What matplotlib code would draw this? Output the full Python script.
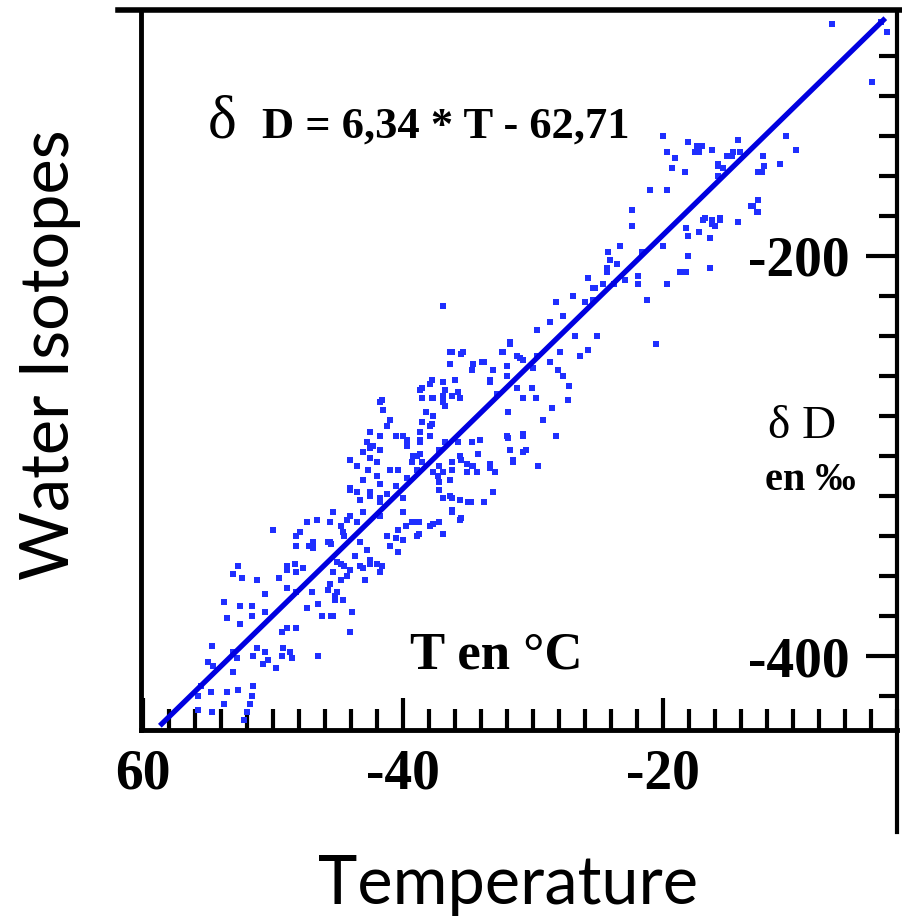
import numpy as np
import matplotlib
matplotlib.use("Agg")
import matplotlib.pyplot as plt
from matplotlib.lines import Line2D

# Données : température (°C) et deutérium (‰)
temp_c = [
    -48.2, -46.9, -45.5, -52.7, -53.1, -52.4, -51.2, -50.6, -48.3, -47.7, -48.9, -49.5,
    -53.8, -52.5, -51.6, -50.6, -53.5, -52.5, -51.6, -48.9, -48.2, -47.0, -46.5, -47.4,
    -45.8, -45.2, -45.6, -44.8, -44.6, -45.5, -46.2, -48.9, -48.2, -49.3, -51.2, -50.6,
    -51.5, -50.4, -49.2, -48.7, -49.3, -48.5, -46.5, -49.8, -50.8, -54.7, -55.0, -54.6,
    -53.1, -52.8, -53.1, -51.5, -51.6, -51.8, -52.0, -52.2, -52.7, -53.5, -53.8, -54.7,
    -55.8, -54.8, -55.5, -55.8,
    -41.8, -41.5, -41.0, -41.2, -42.5, -41.8, -40.5, -39.7, -42.8, -42.3, -41.8, -43.1,
    -42.5, -42.0, -44.1, -43.5, -41.0, -40.4, -42.7, -42.0, -41.8, -43.1, -44.1, -43.5,
    -42.5, -41.8, -41.2, -40.5, -39.7, -39.3, -38.7, -38.9, -38.2, -38.5, -37.9, -38.7,
    -37.7, -38.7, -37.9, -36.8, -35.8, -36.9, -37.7, -35.5, -34.7, -36.2, -37.3, -36.4,
    -37.2, -36.9, -36.2, -35.6, -35.0, -36.2, -35.5, -37.2, -37.7, -36.9, -38.8, -39.3,
    -39.8, -40.4, -40.5, -41.2, -41.0, -40.4, -38.8, -43.5, -44.1, -44.8, -45.6, -46.6,
    -47.4, -47.9, -46.9, -45.6, -44.5, -43.3, -42.8, -43.7, -42.5, -43.3, -44.5, -44.8,
    -44.3, -42.0, -41.8, -48.9, -48.2, -45.4,
    -36.9, -36.4, -35.5, -36.4, -34.7, -33.9, -33.1, -32.0, -32.0, -33.3, -31.8, -32.4,
    -31.2, -30.8, -30.0, -29.7, -28.7, -28.1, -27.7, -27.9, -26.4, -25.8, -27.2, -27.3,
    -28.5, -29.2, -28.2, -29.7, -28.7, -27.7, -28.2, -26.9, -26.0, -25.4, -26.8, -25.1,
    -37.8, -38.5, -36.9, -36.0, -37.8, -36.9, -36.2, -35.6, -36.8, -38.5, -31.2, -30.1,
    -30.8, -29.8, -32.8, -33.3, -31.9, -38.2, -38.5, -37.8, -38.7, -37.9, -40.0, -39.7,
    -38.7, -38.9, -36.8, -37.2, -35.8, -34.7, -34.1, -31.9, -30.8, -31.8, -30.8, -31.5,
    -34.2, -35.6, -36.2, -34.6, -33.3, -32.9, -29.6, -35.1, -36.9, -37.7,
    -20.0, -19.7, -19.1, -19.3, -18.3, -18.1, -17.4, -17.2, -17.5, -16.2, -14.2, -14.6,
    -15.1, -15.8, -15.4, -15.8, -21.0, -19.7, -22.4, -22.4, -16.9, -16.2, -15.6, -16.0,
    -14.2, -18.2, -18.1, -17.2, -16.4, -20.0, -21.6, -23.3, -24.2, -24.1, -23.5, -24.3,
    -24.3, -25.8, -25.2, -24.6, -23.8, -22.9, -21.9, -21.9, -19.7, -18.1, -18.7, -18.2,
    -16.4, -21.2, -26.9, -26.0, -25.4, -13.2, -12.8, -12.7, -20.5,
    -7.0, -3.2, -2.8, -3.9, -10.5, -9.8, -11.0, -14.1, -14.7, -17.0, -15.8, -12.3,
    -12.2, -12.4, -12.7, -13.1, -12.7, -16.8, -16.2, -15.6, -14.2,
    -45.1, -44.1, -43.1, -42.5, -41.6, -42.9, -45.1, -45.2, -43.9, -45.4, -44.1,
    -31.8, -36.2, -35.4, -32.3, -31.0, -34.6, -33.8, -41.6, -42.5, -39.2, -38.5, -37.2,
    -35.1, -34.3, -33.3, -32.0, -31.5, -30.8, -30.5, -44.1, -43.3, -42.5, -41.8, -40.0,
    -37.2, -36.4, -34.8, -33.8, -33.1, -45.4, -44.3, -43.1, -41.8, -40.0, -39.2, -37.9,
    -35.6, -36.2, -50.0, -48.2, -47.2, -45.8, -44.6, -40.0, -38.9,
]
delta_d = [
    -345, -346, -344, -355, -359, -361, -362, -369, -354, -356, -357, -361,
    -373, -375, -375, -378, -381, -384, -380, -366, -368, -368, -374, -376,
    -367, -370, -364, -362, -372, -380, -380, -386, -386, -388, -396, -398,
    -400, -402, -396, -398, -400, -401, -400, -406, -404, -395, -403, -405,
    -398, -401, -408, -415, -420, -424, -428, -432, -417, -418, -424, -428,
    -427, -418, -415, -420,
    -273, -277, -282, -285, -288, -290, -290, -292, -293, -295, -297, -298,
    -301, -303, -302, -305, -307, -307, -307, -310, -314, -312, -316, -318,
    -320, -321, -319, -315, -311, -303, -299, -307, -278, -283, -285, -292,
    -280, -267, -264, -267, -268, -273, -271, -302, -305, -307, -310, -312,
    -317, -321, -321, -322, -323, -327, -331, -333, -334, -339, -333, -333,
    -335, -337, -341, -340, -345, -348, -339, -333, -330, -335, -333, -332,
    -333, -338, -343, -343, -340, -343, -347, -350, -352, -355, -355, -354,
    -360, -354, -358, -355, -358, -358,
    -225, -248, -249, -254, -257, -253, -257, -255, -260, -263, -243, -248,
    -250, -252, -256, -250, -253, -257, -260, -248, -250, -247, -265, -272,
    -276, -282, -290, -237, -233, -230, -223, -220, -223, -216, -240, -240,
    -262, -266, -263, -262, -271, -270, -270, -271, -275, -271, -266, -266,
    -271, -271, -269, -262, -278, -278, -283, -284, -288, -290, -290, -295,
    -293, -300, -293, -297, -293, -293, -292, -291, -289, -297, -298, -303,
    -299, -300, -303, -305, -304, -308, -305, -308, -308, -308,
    -140, -148, -151, -156, -158, -143, -145, -148, -148, -147, -142, -148,
    -150, -154, -156, -160, -167, -167, -177, -185, -182, -182, -181, -185,
    -183, -186, -190, -188, -191, -195, -198, -195, -198, -202, -204, -206,
    -208, -211, -216, -214, -214, -212, -210, -214, -214, -200, -208, -208,
    -206, -222, -220, -223, -222, -175, -178, -158, -244,
    -84, -83, -88, -113, -140, -147, -154, -148, -150, -145, -155, -150,
    -155, -158, -172, -175, -178, -181, -184, -182, -183,
    -353, -357, -356, -354, -355, -362, -368, -372, -378, -380, -388,
    -244, -248, -248, -248, -251, -254, -253, -272, -296, -300, -303, -305,
    -304, -308, -306, -290, -302, -290, -297, -317, -322, -318, -323, -321,
    -313, -320, -323, -323, -318, -328, -332, -328, -330, -328, -333, -335,
    -332, -328, -337, -340, -345, -343, -338, -342, -340,
]

# Régression affichée sur la figure
pente = 6.34
ordonnee = -62.71
t_droite = np.array([-58.7, -2.9])

x_ticks = [-60, -40, -20]
x_tick_labels = ["60", "-40", "-20"]
y_ticks = [-400, -200]
y_tick_labels = ["-400", "-200"]

serif = "Liberation Serif"
sans = "Lato"

fig = plt.figure(figsize=(9.02, 9.22), dpi=100)
W, H = 902, 922


def fx(px):
    return px / W


def fy(py):
    return 1 - py / H


ax = fig.add_axes([fx(141), fy(730), fx(897) - fx(141), fy(12) - fy(730)])

ax.plot(temp_c, delta_d, linestyle="none", marker="s", markersize=4.2,
        color="#1f2fff", markeredgewidth=0, zorder=2)
ax.plot(t_droite, pente * t_droite + ordonnee, color="#0000e0", linewidth=3.8,
        solid_capstyle="butt", zorder=3)

ax.set_xlim(-60.15, -2.0)
ax.set_ylim(-437, -78)

# Axe des x : graduations vers l'intérieur
ax.set_xticks(x_ticks)
ax.set_xticklabels(x_tick_labels, fontfamily=serif, fontweight="bold")
ax.set_xticks(np.arange(-60, -1, 2), minor=True)
ax.tick_params(axis="x", which="major", direction="in", length=23, width=3,
               pad=13, labelsize=40)
ax.tick_params(axis="x", which="minor", direction="in", length=15, width=3)

# Axe des y à droite, étiquettes dans le cadre
ax.yaxis.tick_right()
ax.set_yticks(y_ticks)
ax.set_yticklabels(y_tick_labels, fontfamily=serif, fontweight="bold")
ax.set_yticks(np.arange(-420, -99, 20), minor=True)
ax.tick_params(axis="y", which="major", direction="in", length=22, width=3,
               pad=-34, labelsize=40)
ax.tick_params(axis="y", which="minor", direction="in", length=13, width=3)
plt.setp(ax.get_yticklabels(), ha="right")

ax.spines["left"].set_linewidth(3.5)
ax.spines["bottom"].set_linewidth(3.5)
ax.spines["right"].set_linewidth(3)
ax.spines["top"].set_visible(False)

# Cadre supérieur et prolongement du bord droit
fig.add_artist(Line2D([fx(118), fx(900)], [fy(10), fy(10)], color="black", linewidth=4))
fig.add_artist(Line2D([fx(897), fx(897)], [fy(730), fy(832)], color="black", linewidth=3))

# Textes de la figure d'origine
fig.text(fx(208), fy(138), "δ", fontfamily=serif, fontsize=44, va="baseline")
fig.text(fx(262), fy(138), "D = 6,34 * T - 62,71", fontfamily=serif, fontsize=32,
         fontweight="bold", va="baseline")
fig.text(fx(410), fy(668), "T en °C", fontfamily=serif, fontsize=38,
         fontweight="bold", va="baseline")
fig.text(fx(768), fy(438), "δ D", fontfamily=serif, fontsize=34, va="baseline")
fig.text(fx(765), fy(490), "en ‰", fontfamily=serif, fontsize=29,
         fontweight="bold", va="baseline")

# Titres d'axes de la diapositive
fig.text(fx(50), fy(355), "Water Isotopes", fontfamily=sans, fontsize=48,
         rotation=90, ha="center", va="center")
fig.text(fx(508), fy(885), "Temperature", fontfamily=sans, fontsize=48,
         ha="center", va="center")

fig.savefig("out.png", dpi=100)
